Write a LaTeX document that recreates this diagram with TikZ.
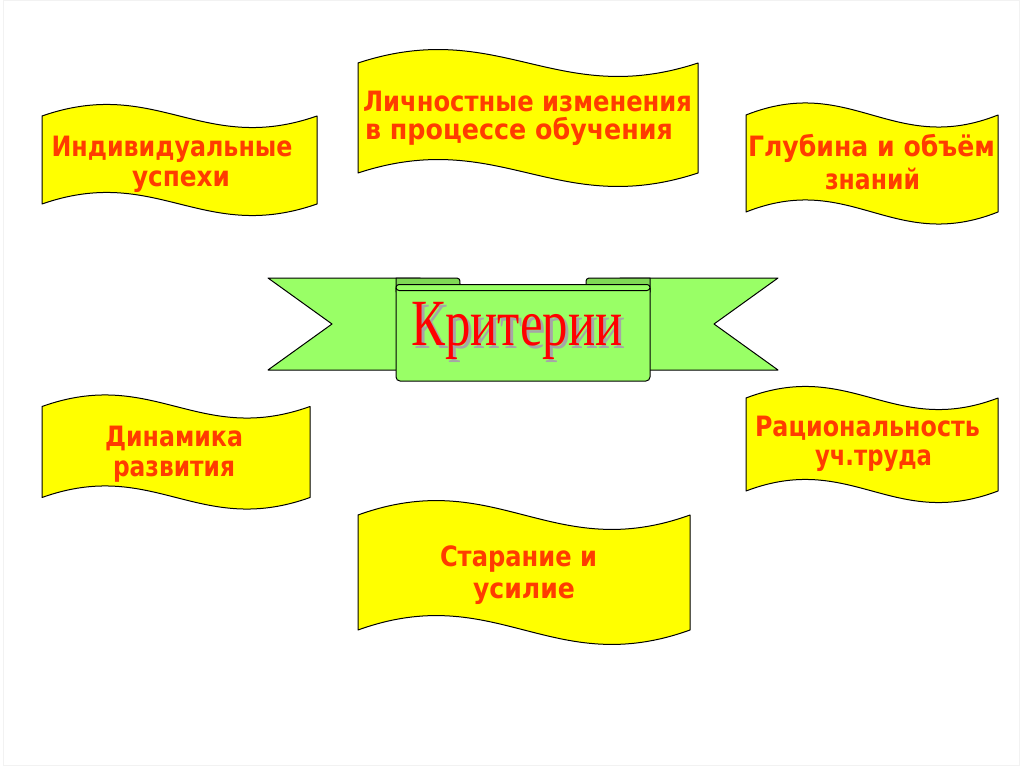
\documentclass[tikz,border=0pt]{standalone}
\usepackage{fontspec}
\setmainfont{DejaVu Sans}
\newfontfamily\titlefont{Liberation Serif}
\definecolor{flagyellow}{HTML}{FFFF00}
\definecolor{flagtext}{HTML}{FF3C00}
\definecolor{ribbon}{HTML}{99FF66}
\definecolor{ribbondark}{HTML}{80D955}
\definecolor{titlered}{HTML}{FF0000}
\definecolor{shadowgray}{HTML}{A6A6A6}
\definecolor{framegray}{HTML}{F2F2F2}
\newsavebox\fitbox
\newcommand\fitw[2]{\sbox\fitbox{#2}\pgfmathsetmacro\fitr{#1/(\the\wd\fitbox)}\scalebox{\fitr}[1]{\usebox\fitbox}}
\newcommand\wave[5]{%
  \pgfmathsetmacro\wva{#1+5*(#2-#1)/12}%
  \pgfmathsetmacro\wvb{#1+7*(#2-#1)/12}%
  \pgfmathsetmacro\wvd{10*#5/3}%
  \draw[flag] (#1,#3) .. controls (\wva,#3-\wvd) and (\wvb,#3+\wvd) .. (#2,#3)
    -- (#2,#4) .. controls (\wvb,#4+\wvd) and (\wva,#4-\wvd) .. (#1,#4) -- cycle;}
\tikzset{
  flag/.style={fill=flagyellow,draw=black,line width=1pt,line join=round},
  ftext/.style={font=\fontsize{28}{28}\selectfont\bfseries,text=flagtext,inner sep=0pt,anchor=base},
  rib/.style={fill=ribbon,draw=black,line width=1pt,line join=round},
  ribdark/.style={fill=ribbondark,draw=black,line width=1pt,line join=round},
  ttext/.style={font=\fontsize{66}{66}\titlefont,inner sep=0pt,anchor=base}
}
\begin{document}
\begin{tikzpicture}[x=1pt,y=-1pt]
\useasboundingbox (0,0) rectangle (1024,767);
\draw[framegray,line width=1pt] (3,1) rectangle (1019,765);
% yellow wave flags
\wave{42}{317}{116}{204}{12}
\wave{358}{698}{63}{173}{14}
\wave{746}{998}{115}{212}{12.5}
\wave{42}{310}{406.5}{497.5}{12}
\wave{746}{998}{398}{491}{12}
\wave{358}{690}{515}{630}{15}
% flag texts
\node[ftext] (f1a) at (172,157) {\fitw{241}{Индивидуальные}};
\node[ftext] (f1b) at (181,187) {\fitw{98}{успехи}};
\node[ftext] (f2a) at (527.5,111.5) {\fitw{329}{Личностные изменения}};
\node[ftext] (f2b) at (519,140) {\fitw{308}{в процессе обучения}};
\node[ftext] (f3a) at (871.5,156.5) {\fitw{247}{Глубина и объём}};
\node[ftext] (f3b) at (872.5,190) {\fitw{95}{знаний}};
\node[ftext] (f4a) at (174,446.5) {\fitw{138}{Динамика}};
\node[ftext] (f4b) at (174,476) {\fitw{122}{развития}};
\node[ftext] (f5a) at (867.5,436.5) {\fitw{225}{Рациональность}};
\node[ftext] (f5b) at (873.5,465) {\fitw{117}{уч.труда}};
\node[ftext] (f6a) at (518.5,566.5) {\fitw{157}{Старание и}};
\node[ftext] (f6b) at (524,598) {\fitw{102}{усилие}};
% green ribbon
\draw[rib] (268,278) -- (420,278) -- (420,370) -- (268,370) -- (332,324) -- cycle;
\draw[rib] (778,278) -- (620,278) -- (620,370) -- (778,370) -- (714,324) -- cycle;
\draw[ribdark] (396,278) -- (454,278) .. controls (460,278) and (460,279) .. (460,284) -- (460,292) -- (396,292) -- cycle;
\draw[ribdark] (650,278) -- (592,278) .. controls (586,278) and (586,279) .. (586,284) -- (586,292) -- (650,292) -- cycle;
\draw[rib,rounded corners=4] (396,288) -- (396,381) -- (650,381) -- (650,288);
\draw[rib,rounded corners=3] (396,284.5) rectangle (650,290.5);
\node[ttext,text=shadowgray] (titleshadow) at (520,348) {\fitw{211}{Критерии}};
\node[ttext,text=titlered] (title) at (517,345) {\fitw{211}{Критерии}};
\end{tikzpicture}
\end{document}
